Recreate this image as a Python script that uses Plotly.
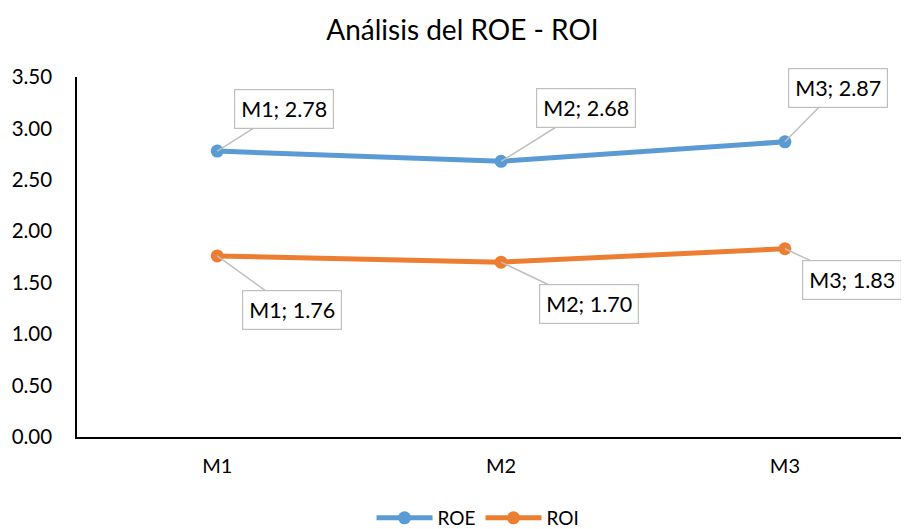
import plotly.graph_objects as go

categories = ["M1", "M2", "M3"]
roe = [2.78, 2.68, 2.87]
roi = [1.76, 1.70, 1.83]
y_ticks = [0, 0.5, 1.0, 1.5, 2.0, 2.5, 3.0, 3.5]
y_tick_labels = [f"{v:.2f}" for v in y_ticks]

FONT = "Lato, Open Sans, sans-serif"
BLUE = "#5B9BD5"
ORANGE = "#ED7D31"

fig = go.Figure()
fig.add_trace(go.Scatter(x=categories, y=roe, name="ROE", mode="lines+markers",
                         line=dict(color=BLUE, width=5),
                         marker=dict(color=BLUE, size=13)))
fig.add_trace(go.Scatter(x=categories, y=roi, name="ROI", mode="lines+markers",
                         line=dict(color=ORANGE, width=5),
                         marker=dict(color=ORANGE, size=13)))

roe_offsets = [(67, -42), (85, -53), (53, -54)]
roi_offsets = [(75, 54), (88, 42), (67, 31)]
for series, offs in ((roe, roe_offsets), (roi, roi_offsets)):
    for cat, val, (ax, ay) in zip(categories, series, offs):
        fig.add_annotation(x=cat, y=val, text=f"{cat}; {val:.2f}",
                           showarrow=True, arrowhead=0, arrowwidth=1.5,
                           arrowcolor="#BFBFBF", ax=ax, ay=ay,
                           bordercolor="#BFBFBF", borderwidth=1.2, borderpad=6,
                           bgcolor="white", standoff=0,
                           font=dict(family=FONT, size=21.5, color="#000000"))

fig.update_layout(
    width=909, height=529,
    margin=dict(l=69, r=8, t=69, b=100, autoexpand=False),
    paper_bgcolor="white", plot_bgcolor="white",
    title=dict(text="Análisis del ROE - ROI", x=0.5, xanchor="center",
               y=0.958, yanchor="middle",
               font=dict(family=FONT, size=28, color="#000000")),
    font=dict(family=FONT, color="#000000"),
    showlegend=True,
    legend=dict(orientation="h", x=0.482, xanchor="center", y=-0.225, yanchor="middle",
                font=dict(family=FONT, size=19, color="#000000"),
                itemwidth=56, bgcolor="rgba(0,0,0,0)"),
    xaxis=dict(type="category", range=[-0.494, 2.437], showgrid=False,
               showline=True, linecolor="#000000", linewidth=1.5,
               ticks="", tickfont=dict(family=FONT, size=20, color="#000000"),
               ticklabelstandoff=10, zeroline=False),
    yaxis=dict(range=[0, 3.5], tickvals=y_ticks, ticktext=y_tick_labels,
               showgrid=False, showline=True, linecolor="#000000", linewidth=1.5,
               ticks="", tickfont=dict(family=FONT, size=20.5, color="#000000"),
               ticklabelstandoff=19, zeroline=False),
)

fig.write_html("out.html")
